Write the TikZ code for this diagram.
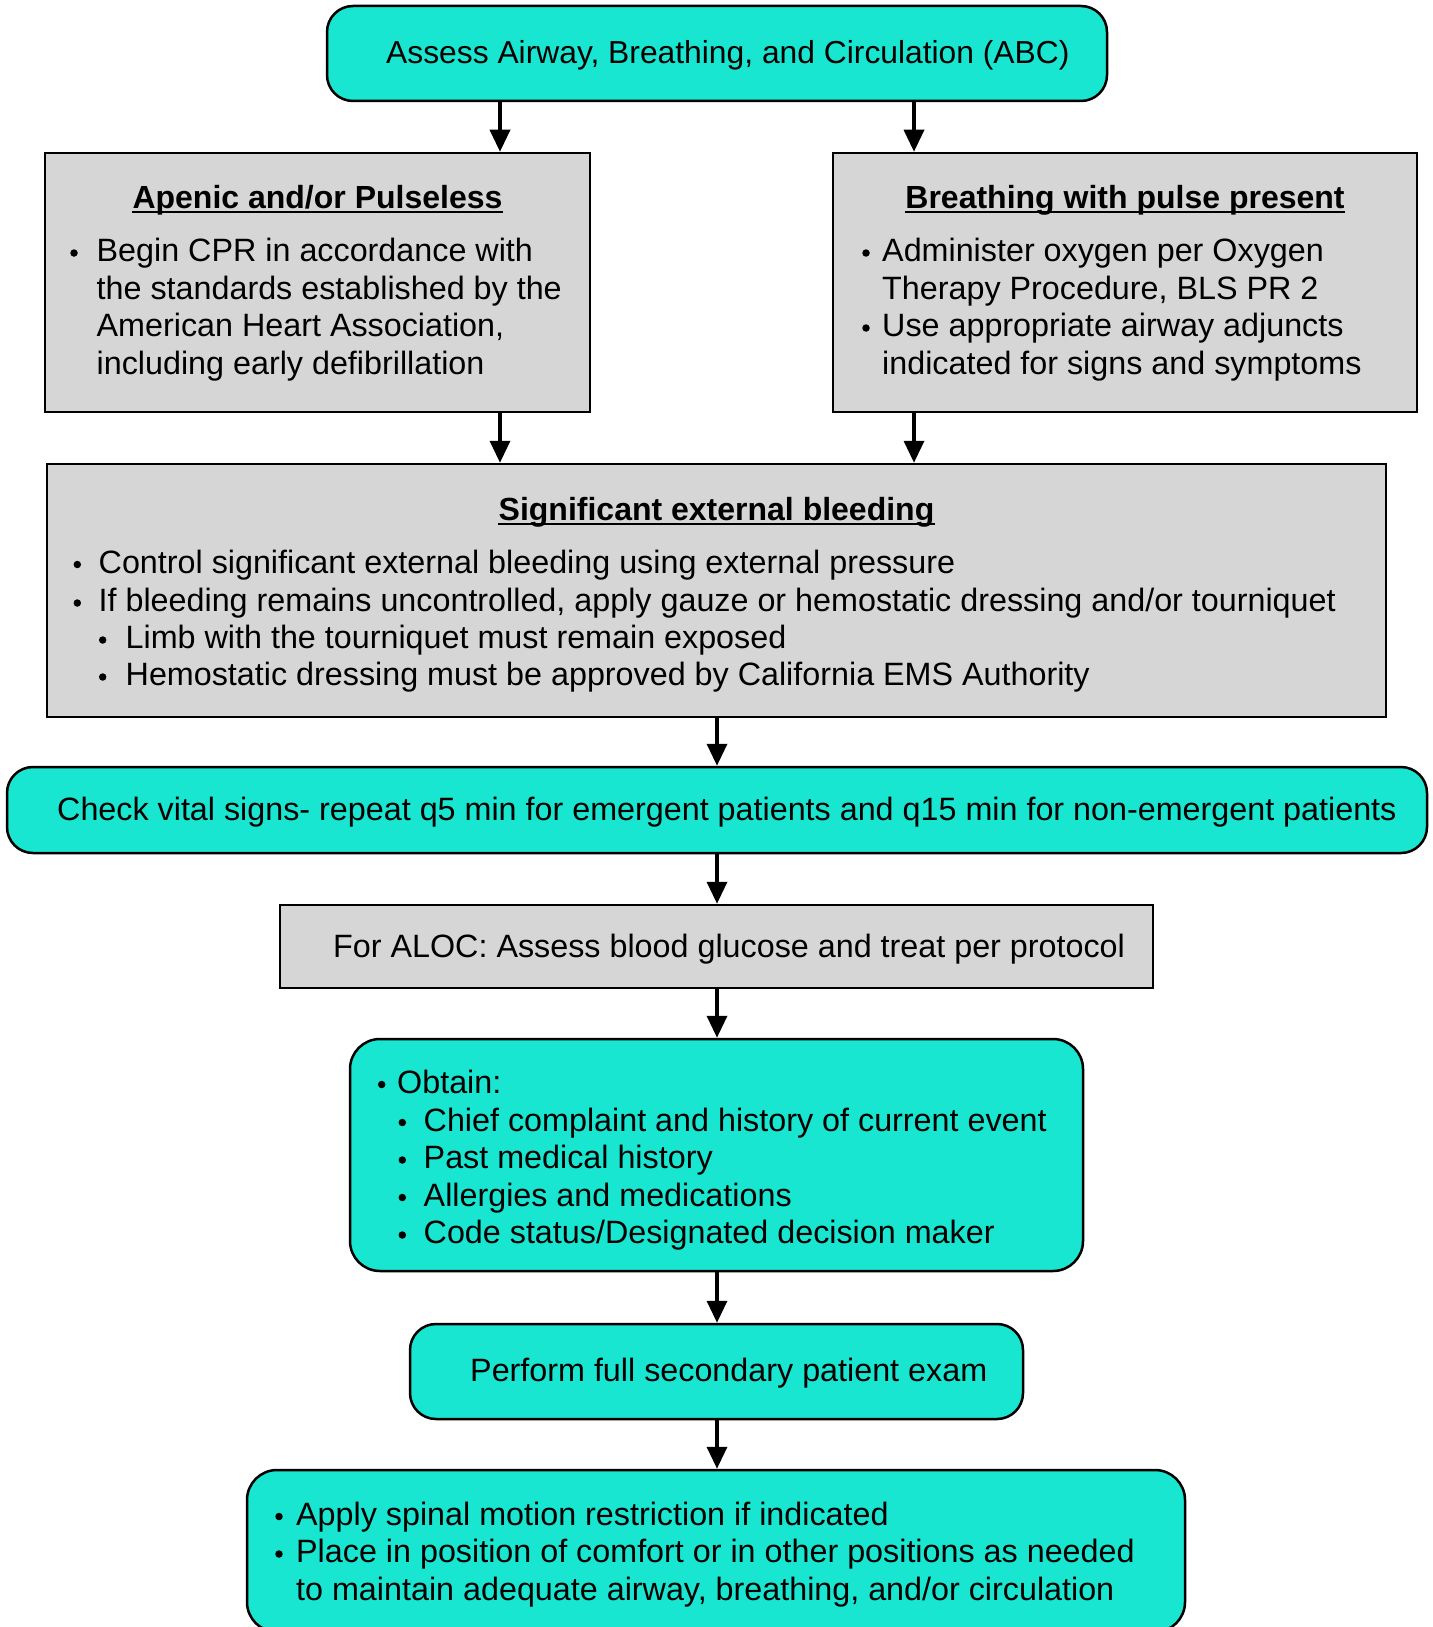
\documentclass[tikz,border=0pt]{standalone}
\usepackage{fontspec}
\setmainfont{Liberation Sans}
\usetikzlibrary{arrows.meta}
\definecolor{aqua}{RGB}{24,230,208}
\definecolor{panel}{RGB}{214,214,214}
\begin{document}
\begin{tikzpicture}[x=1pt,y=-1pt,
  aquabox/.style={draw=black, line width=2.5pt, fill=aqua, rounded corners=26pt, inner sep=0},
  greybox/.style={draw=black, line width=2.5pt, fill=panel, inner sep=0},
  txt/.style={inner sep=0, anchor=base west, font=\fontsize{32.3}{38}\selectfont},
  head/.style={inner sep=0, anchor=base, font=\fontsize{32}{38}\selectfont\bfseries},
  uline/.style={line width=2pt},
  dot/.style={circle, fill=black, inner sep=0, minimum size=7.5pt},
  flow/.style={line width=3.5pt, -{Triangle[length=22pt,width=20pt]}}]
\fill[white] (0,0) rectangle (1432,1627);
\useasboundingbox (0,0) rectangle (1432,1627);

% columns of the connectors
\coordinate (cL) at (500,0);
\coordinate (cR) at (914,0);
\coordinate (cM) at (717,0);

% boxes
\node[aquabox, minimum width=780pt, minimum height=95pt] (abc) at (717,53.5) {};
\node[greybox, minimum width=545pt, minimum height=259pt] (apn) at (317.5,282.5) {};
\node[greybox, minimum width=584pt, minimum height=259pt] (brp) at (1125,282.5) {};
\node[greybox, minimum width=1339pt, minimum height=253pt] (bld) at (716.5,590.5) {};
\node[aquabox, minimum width=1420pt, minimum height=86pt] (vit) at (717,810) {};
\node[greybox, minimum width=873pt, minimum height=83pt] (aloc) at (716.5,946.5) {};
\node[aquabox, minimum width=733pt, minimum height=232pt, rounded corners=30pt] (obt) at (716.5,1155) {};
\node[aquabox, minimum width=613pt, minimum height=95pt] (perf) at (716.5,1371.5) {};
\node[aquabox, minimum width=938pt, minimum height=162pt, rounded corners=30pt] (fin) at (716,1551) {};

% top box
\node[txt, font=\fontsize{31.8}{38}\selectfont] (t-abc) at (386,64) {Assess Airway, Breathing, and Circulation (ABC)};

% apneic / pulseless
\node[head] (h-apn) at (317.5,208) {Apenic and/or Pulseless};
\draw[uline] ([yshift=-4pt]h-apn.base west) -- ([yshift=-4pt]h-apn.base east);
\node[dot] (a1d) at (74,253) {};
\node[txt] (a1) at (96.5,261.5) {Begin CPR in accordance with};
\node[txt] (a2) at (96.5,299) {the standards established by the};
\node[txt] (a3) at (96.5,336.5) {American Heart Association,};
\node[txt] (a4) at (96.5,374) {including early defibrillation};

% breathing with pulse
\node[head] (h-brp) at (1125,208) {Breathing with pulse present};
\draw[uline] ([yshift=-4pt]h-brp.base west) -- ([yshift=-4pt]h-brp.base east);
\node[dot] (b1d) at (866,253) {};
\node[txt] (b1) at (882,261.5) {Administer oxygen per Oxygen};
\node[txt] (b2) at (882,299) {Therapy Procedure, BLS PR 2};
\node[dot] (b3d) at (866,328) {};
\node[txt] (b3) at (882,336.5) {Use appropriate airway adjuncts};
\node[txt] (b4) at (882,374) {indicated for signs and symptoms};

% bleeding
\node[head] (h-bld) at (716.5,520) {Significant external bleeding};
\draw[uline] ([yshift=-4pt]h-bld.base west) -- ([yshift=-4pt]h-bld.base east);
\node[dot] (d1d) at (77.3,564.5) {};
\node[txt] (d1) at (98.5,573) {Control significant external bleeding using external pressure};
\node[dot] (d2d) at (77.3,603) {};
\node[txt] (d2) at (98.5,611.5) {If bleeding remains uncontrolled, apply gauze or hemostatic dressing and/or tourniquet};
\node[dot] (d3d) at (102.7,640) {};
\node[txt] (d3) at (125.5,648.5) {Limb with the tourniquet must remain exposed};
\node[dot] (d4d) at (102.7,677) {};
\node[txt] (d4) at (125.5,685.5) {Hemostatic dressing must be approved by California EMS Authority};

% vital signs
\node[txt] (t-vit) at (57,820) {Check vital signs- repeat q5 min for emergent patients and q15 min for non-emergent patients};

% ALOC
\node[txt] (t-aloc) at (333,957) {For ALOC: Assess blood glucose and treat per protocol};

% history
\node[dot] (o1d) at (381.7,1084.5) {};
\node[txt] (o1) at (397,1093) {Obtain:};
\node[dot] (o2d) at (402.3,1122.5) {};
\node[txt] (o2) at (423.5,1131) {Chief complaint and history of current event};
\node[dot] (o3d) at (402.3,1160) {};
\node[txt] (o3) at (423.5,1168.5) {Past medical history};
\node[dot] (o4d) at (402.3,1197.5) {};
\node[txt] (o4) at (423.5,1206) {Allergies and medications};
\node[dot] (o5d) at (402.3,1235) {};
\node[txt] (o5) at (423.5,1243.5) {Code status/Designated decision maker};

% secondary exam
\node[txt] (t-perf) at (470,1381) {Perform full secondary patient exam};

% positioning
\node[dot] (f1d) at (279,1516.5) {};
\node[txt] (f1) at (296,1525) {Apply spinal motion restriction if indicated};
\node[dot] (f2d) at (279,1554) {};
\node[txt] (f2) at (296,1562.5) {Place in position of comfort or in other positions as needed};
\node[txt] (f3) at (296,1600) {to maintain adequate airway, breathing, and/or circulation};

% connectors
\draw[flow] (abc.south -| cL) -- (apn.north -| cL);
\draw[flow] (abc.south -| cR) -- (brp.north -| cR);
\draw[flow] (apn.south -| cL) -- (bld.north -| cL);
\draw[flow] (brp.south -| cR) -- (bld.north -| cR);
\draw[flow] (bld.south -| cM) -- (vit.north -| cM);
\draw[flow] (vit.south -| cM) -- (aloc.north -| cM);
\draw[flow] (aloc.south -| cM) -- (obt.north -| cM);
\draw[flow] (obt.south -| cM) -- (perf.north -| cM);
\draw[flow] (perf.south -| cM) -- (fin.north -| cM);
\end{tikzpicture}
\end{document}
